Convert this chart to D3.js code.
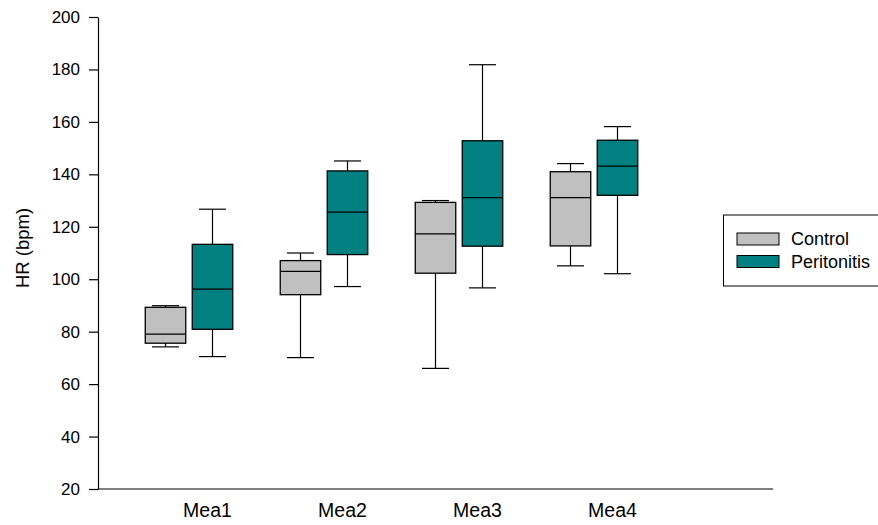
<!DOCTYPE html>
<html>
<head>
<meta charset="utf-8">
<script src="https://cdn.jsdelivr.net/npm/d3@7"></script>
<style>
  html, body { margin: 0; padding: 0; background: #fff; }
  svg { display: block; font-family: "Liberation Sans", Arial, sans-serif; }
</style>
</head>
<body>
<svg id="chart" width="878" height="525"></svg>
<script>
// Measurement periods and heart-rate box statistics (bpm)
const categories = ["Mea1", "Mea2", "Mea3", "Mea4"];
const seriesNames = ["Control", "Peritonitis"];
const seriesColors = ["#c0c0c0", "#008080"];

// [lower whisker, Q1, median, Q3, upper whisker]
const controlStats = [
  [74.2, 75.6, 79.1, 89.3, 89.9],
  [70.1, 94.1, 103.0, 107.1, 110.0],
  [66.0, 102.3, 117.3, 129.3, 130.0],
  [105.1, 112.7, 131.1, 141.0, 144.1]
];
const peritonitisStats = [
  [70.5, 80.9, 96.2, 113.3, 126.7],
  [97.2, 109.4, 125.6, 141.3, 145.1],
  [96.7, 112.6, 131.1, 152.8, 181.8],
  [102.1, 132.0, 143.1, 153.0, 158.2]
];
const yTicks = [20, 40, 60, 80, 100, 120, 140, 160, 180, 200];

const svg = d3.select("#chart");
const plotLeft = 98, plotRight = 773, plotTop = 17, plotBottom = 489;

const y = d3.scaleLinear().domain([20, 200]).range([plotBottom, plotTop]);
// five equal slots along the axis, the last one left empty
const x = d3.scaleBand().domain([...categories, ""]).range([plotLeft, plotRight]);
const slot = x.bandwidth();
const boxW = 40.5, capW = 27;
const offsets = [0, 47];
const labelOffset = 42;

// y axis
const yAxis = d3.axisLeft(y).tickValues(yTicks).tickSize(9).tickPadding(9).tickSizeOuter(0);
const gy = svg.append("g").attr("transform", `translate(${plotLeft},0)`).call(yAxis);
gy.select(".domain").attr("stroke", "#000").attr("stroke-width", 1.2);
gy.selectAll(".tick line").attr("stroke", "#000").attr("stroke-width", 1.2);
gy.selectAll(".tick text").attr("font-size", 17).attr("fill", "#000")
  .attr("font-family", "Liberation Sans, Arial, sans-serif");

// x axis line
svg.append("line")
  .attr("x1", plotLeft).attr("x2", plotRight).attr("y1", plotBottom).attr("y2", plotBottom)
  .attr("stroke", "#000").attr("stroke-width", 1.2);

// x category labels
svg.append("g").selectAll("text").data(categories).join("text")
  .attr("x", d => x(d) + slot / 2 + labelOffset)
  .attr("y", 517)
  .attr("text-anchor", "middle")
  .attr("font-size", 19.5)
  .text(d => d);

// y axis title
svg.append("text")
  .attr("transform", `translate(29,248) rotate(-90)`)
  .attr("text-anchor", "middle")
  .attr("font-size", 18.5)
  .text("HR (bpm)");

// boxes
const allStats = [controlStats, peritonitisStats];
allStats.forEach((stats, si) => {
  const g = svg.append("g");
  stats.forEach((s, ci) => {
    const cx = x(categories[ci]) + slot / 2 + offsets[si];
    const [lo, q1, med, q3, hi] = s;
    // whiskers
    g.append("line").attr("x1", cx).attr("x2", cx).attr("y1", y(hi)).attr("y2", y(q3))
      .attr("stroke", "#000").attr("stroke-width", 1.2);
    g.append("line").attr("x1", cx).attr("x2", cx).attr("y1", y(q1)).attr("y2", y(lo))
      .attr("stroke", "#000").attr("stroke-width", 1.2);
    // caps
    [lo, hi].forEach(v => {
      g.append("line").attr("x1", cx - capW / 2).attr("x2", cx + capW / 2)
        .attr("y1", y(v)).attr("y2", y(v))
        .attr("stroke", "#000").attr("stroke-width", 1.2);
    });
    // box
    g.append("rect")
      .attr("x", cx - boxW / 2).attr("width", boxW)
      .attr("y", y(q3)).attr("height", y(q1) - y(q3))
      .attr("fill", seriesColors[si]).attr("stroke", "#000").attr("stroke-width", 1.3);
    // median
    g.append("line").attr("x1", cx - boxW / 2).attr("x2", cx + boxW / 2)
      .attr("y1", y(med)).attr("y2", y(med))
      .attr("stroke", "#000").attr("stroke-width", 1.3);
  });
});

// legend
const lg = svg.append("g");
lg.append("rect").attr("x", 723.5).attr("y", 215).attr("width", 170).attr("height", 71)
  .attr("fill", "#fff").attr("stroke", "#000").attr("stroke-width", 1);
seriesNames.forEach((name, i) => {
  const yy = 233 + i * 22.5;
  lg.append("rect").attr("x", 737).attr("y", yy).attr("width", 42).attr("height", 12)
    .attr("fill", seriesColors[i]).attr("stroke", "#000").attr("stroke-width", 1);
  lg.append("text").attr("x", 791).attr("y", yy + 12)
    .attr("font-size", 18).text(name);
});
</script>
</body>
</html>
